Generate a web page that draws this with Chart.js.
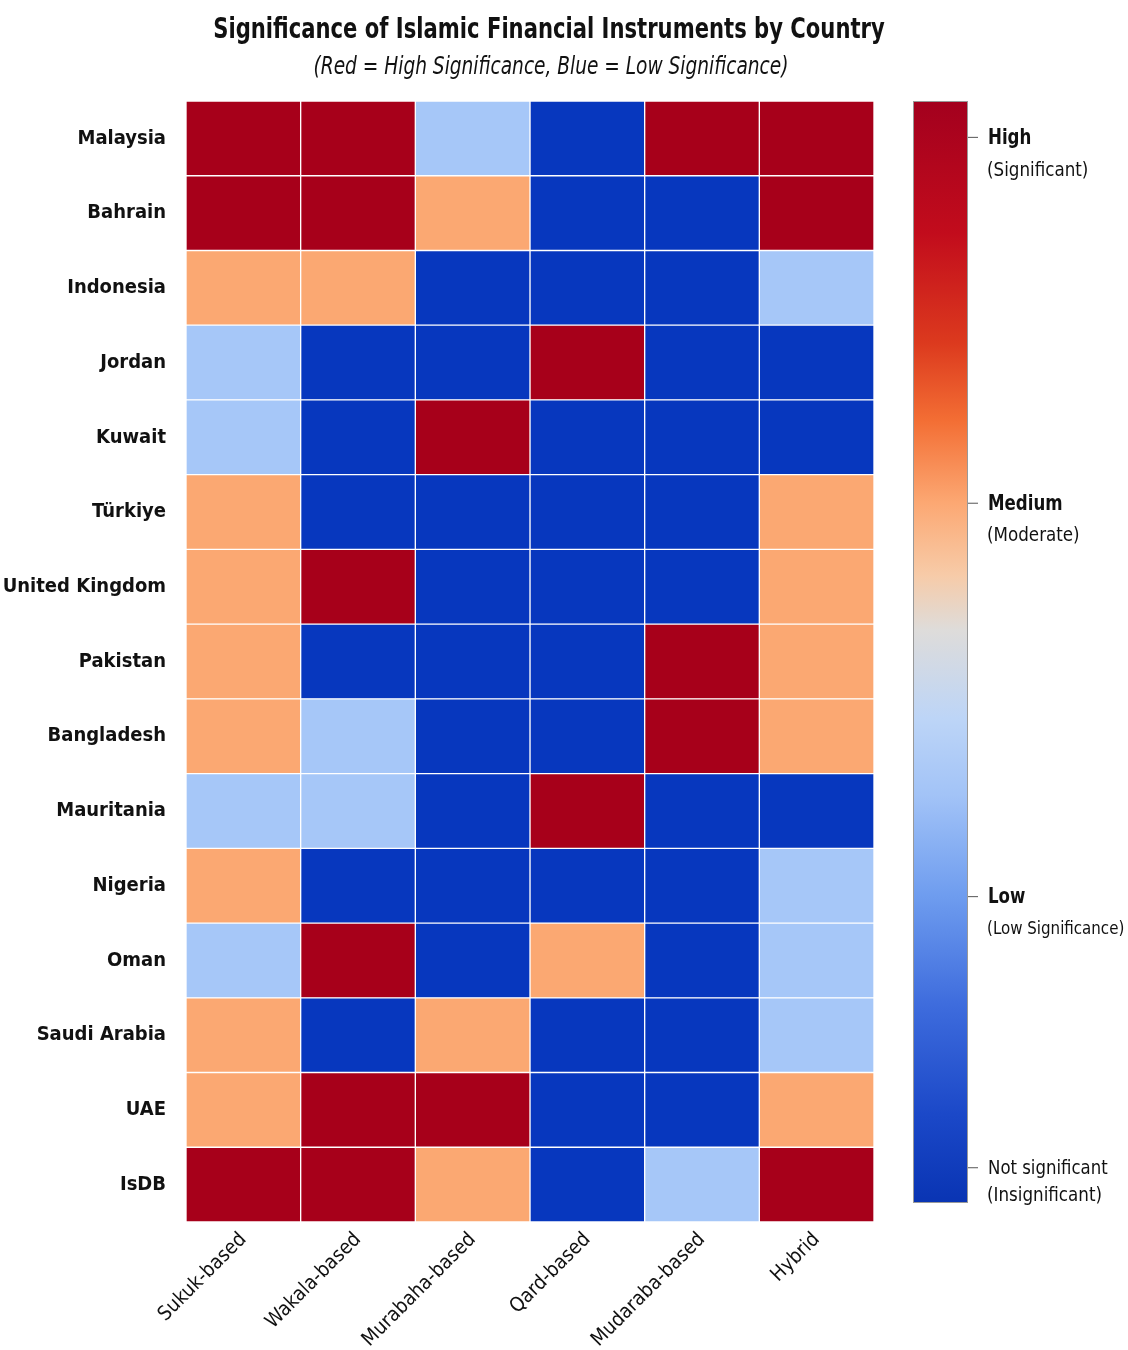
<!DOCTYPE html>
<html>
<head>
<meta charset="utf-8">
<script src="https://cdn.jsdelivr.net/npm/chart.js@4"></script>
<style>
  html, body { margin: 0; padding: 0; background: #fff; }
  #wrap { width: 1128px; height: 1350px; }
</style>
</head>
<body>
<div id="wrap"><canvas id="heatmap"></canvas></div>
<script>
// categories
const countries = ['Malaysia', 'Bahrain', 'Indonesia', 'Jordan', 'Kuwait', 'Türkiye', 'United Kingdom',
    'Pakistan', 'Bangladesh', 'Mauritania', 'Nigeria', 'Oman', 'Saudi Arabia', 'UAE', 'IsDB'];
const instruments = ['Sukuk-based', 'Wakala-based', 'Murabaha-based', 'Qard-based', 'Mudaraba-based', 'Hybrid'];

// significance level per country (0 = not significant, 1 = low, 2 = medium, 3 = high)
const sukuk    = [3, 3, 2, 1, 1, 2, 2, 2, 2, 1, 2, 1, 2, 2, 3];
const wakala   = [3, 3, 2, 0, 0, 0, 3, 0, 1, 1, 0, 3, 0, 3, 3];
const murabaha = [1, 2, 0, 0, 3, 0, 0, 0, 0, 0, 0, 0, 2, 3, 2];
const qard     = [0, 0, 0, 3, 0, 0, 0, 0, 0, 3, 0, 2, 0, 0, 0];
const mudaraba = [3, 0, 0, 0, 0, 0, 0, 3, 3, 0, 0, 0, 0, 0, 1];
const hybrid   = [3, 3, 1, 0, 0, 2, 2, 2, 2, 0, 1, 1, 1, 2, 3];
const columns = [sukuk, wakala, murabaha, qard, mudaraba, hybrid];

// colour bar tick labels (level 3 down to 0)
const levelLabels = ['High', 'Medium', 'Low', 'Not significant'];
const levelNotes = ['(Significant)', '(Moderate)', '(Low Significance)', '(Insignificant)'];

const palette = ['#0737BE', '#A6C7F8', '#FBA872', '#A7001A'];
const FONT = "'DejaVu Sans Condensed', 'DejaVu Sans', sans-serif";

// squeeze text a bit so it looks like a narrow face
function narrowText(ctx, text, x, y, squeeze) {
    const w = ctx.measureText(text).width;
    ctx.fillText(text, x, y, w * squeeze);
}

// title + colour bar
const decorations = {
    id: 'decorations',
    afterDraw(chart) {
        const ctx = chart.ctx;
        const area = chart.chartArea;
        ctx.save();
        ctx.fillStyle = '#111';
        ctx.textAlign = 'center';
        ctx.textBaseline = 'middle';
        ctx.font = 'bold 29px ' + FONT;
        narrowText(ctx, 'Significance of Islamic Financial Instruments by Country', 549, 30, 0.81);
        ctx.font = 'italic 24px ' + FONT;
        narrowText(ctx, '(Red = High Significance, Blue = Low Significance)', 551, 68, 0.86);

        // colour bar
        const x0 = area.right + 39, w = 55;
        const top = area.top, h = 1102;
        const g = ctx.createLinearGradient(0, top, 0, top + h);
        g.addColorStop(0.00, '#A3001E');
        g.addColorStop(0.12, '#C20C1C');
        g.addColorStop(0.22, '#DC3A1E');
        g.addColorStop(0.29, '#F36E34');
        g.addColorStop(0.365, '#FCA873');
        g.addColorStop(0.43, '#F7CBA8');
        g.addColorStop(0.48, '#DEDCDA');
        g.addColorStop(0.56, '#BDD5F7');
        g.addColorStop(0.63, '#A2C3F7');
        g.addColorStop(0.72, '#6F9DEF');
        g.addColorStop(0.82, '#3E6CDD');
        g.addColorStop(0.92, '#1B48C8');
        g.addColorStop(1.00, '#0934B3');
        ctx.fillStyle = g;
        ctx.fillRect(x0, top, w, h);
        ctx.strokeStyle = '#999';
        ctx.lineWidth = 1;
        ctx.strokeRect(x0 + 0.5, top + 0.5, w - 1, h - 1);

        const tickFrac = [0.033, 0.365, 0.722, 0.968];
        ctx.textAlign = 'left';
        levelLabels.forEach((lbl, i) => {
            const y = top + tickFrac[i] * h;
            ctx.strokeStyle = '#555';
            ctx.beginPath();
            ctx.moveTo(x0 + w, y);
            ctx.lineTo(x0 + w + 10, y);
            ctx.stroke();
            ctx.fillStyle = '#111';
            const last = i === levelLabels.length - 1;
            ctx.font = (last ? '20px ' : 'bold 22px ') + FONT;
            narrowText(ctx, lbl, x0 + w + 20, y + 1, last ? 0.92 : 0.84);
            ctx.font = (i === 2 ? '18px ' : '20px ') + FONT;
            narrowText(ctx, levelNotes[i], x0 + w + 19, y + (last ? 28 : 33), 0.93);
        });
        ctx.restore();
    }
};

const datasets = columns.map((col, j) => ({
    label: instruments[j],
    data: countries.map(() => 1),
    backgroundColor: col.map(v => palette[v]),
    borderColor: 'rgba(255,255,255,0.8)',
    borderWidth: 1,
    borderSkipped: false,
    barPercentage: 1,
    categoryPercentage: 1,
    xAxisID: 'x',
    yAxisID: 'y'
}));

new Chart(document.getElementById('heatmap'), {
    type: 'bar',
    data: { labels: countries, datasets: datasets },
    options: {
        indexAxis: 'y',
        responsive: true,
        maintainAspectRatio: false,
        animation: false,
        layout: { padding: { top: 101, right: 254, left: 0, bottom: 0 } },
        plugins: {
            legend: { display: false },
            tooltip: { enabled: false }
        },
        scales: {
            x: { stacked: true, min: 0, max: instruments.length, display: false },
            x2: {
                type: 'category',
                labels: instruments,
                position: 'bottom',
                offset: true,
                grid: { display: false, drawTicks: false },
                border: { display: false },
                ticks: {
                    color: '#111',
                    font: { family: FONT, size: 20 },
                    maxRotation: 45,
                    minRotation: 45,
                    padding: 6
                },
                afterFit(scale) { scale.height = 128; }
            },
            y: {
                stacked: true,
                grid: { display: false, drawTicks: false },
                border: { display: false },
                ticks: {
                    color: '#111',
                    font: { family: FONT, size: 20, weight: 'bold' },
                    padding: 20
                },
                afterFit(scale) { scale.width = 186; }
            }
        }
    },
    plugins: [decorations]
});
</script>
</body>
</html>
